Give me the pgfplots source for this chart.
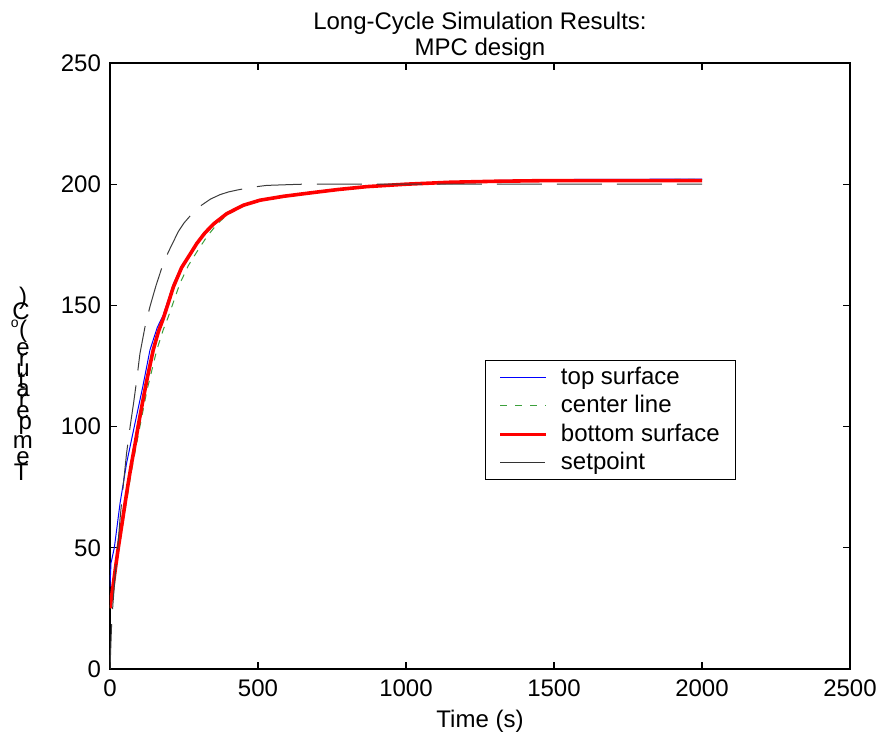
\documentclass[border=0pt]{standalone}
\usepackage{fontspec}
\setmainfont{Liberation Sans}
\usepackage{graphicx}
\usepackage{pgfplots}
\pgfplotsset{compat=1.18}
\definecolor{cgreen}{RGB}{60,160,60}
\definecolor{cset}{RGB}{60,60,60}
\newlength\uplen
\newcommand\up[1]{\settowidth{\uplen}{#1}\makebox[\uplen][c]{\rotatebox[origin=c]{-90}{#1}}}
\newcommand\fs{\fontsize{12}{13}\selectfont}
\begin{document}
\begin{tikzpicture}
\useasboundingbox (-55pt,-34.5pt) rectangle (386.5pt,334.5pt);
\begin{axis}[
  at={(0,0)}, anchor=south west,
  scale only axis, width=370pt, height=303pt,
  xmin=0, xmax=2500, ymin=0, ymax=250,
  xtick={0,500,...,2500}, ytick={0,50,...,250},
  tick align=inside, major tick length=3.5pt,
  xtick pos=both, ytick pos=both,
  axis line style={line width=0.6pt},
  every tick/.style={black, line width=0.6pt},
  /pgf/number format/assume math mode=true,
  /pgf/number format/1000 sep={},
  tick label style={font=\fs},
  xticklabel style={yshift=-2pt},
  yticklabel style={xshift=-1pt},
  scaled ticks=false,
  title={Long-Cycle Simulation Results:\\MPC design},
  title style={font=\fs, align=center, at={(0.5,1)}, anchor=south, yshift=-8.5pt},
  xlabel={Time (s)},
  xlabel style={font=\fs, at={(0.5,0)}, anchor=north, yshift=-17pt},
  ylabel={\up{T}\up{e}\up{m}\up{p}\up{e}\up{r}\up{a}\up{t}\up{u}\up{r}\up{e}\hspace{0.278em}\up{(}\raisebox{0.45em}{\up{\scriptsize o}}\up{C}\up{)}},
  ylabel style={font=\fs, at={(axis description cs:-0.119,0.465)}, anchor=center},
  legend cell align=left,
  legend style={at={(0.507,0.510)}, anchor=north west, draw=black, line width=0.6pt,
    font=\fs, inner xsep=6.5pt, inner ysep=1.3pt, column sep=5pt,
    nodes={inner sep=1.5pt, text height=9pt, text depth=2.25pt}},
]
\addplot[blue, line width=0.5pt,
  legend image code/.code={\draw[blue, line width=0.5pt] (0pt,0pt) -- (23pt,0pt);}]
coordinates {
(0,34) (3.4,43.7) (14.6,50) (34,68.4) (56,84.9) (84.5,101.4) (110,116) (135,131.6)
(160,141) (180,146) (214,158.8) (242,166.3) (270,171.5) (293,176) (320,180.2)
(350,184) (394,188.2) (450,191.5) (507,193.6) (586,195.2) (676,196.6) (770,198)
(868,199.2) (1000,200.2) (1149,201) (1300,201.5) (1486,201.9) (1700,202) (2000,202.1)
};
\addlegendentry{top surface}
\addplot[cgreen, line width=0.5pt, dash pattern=on 3.5pt off 3.5pt,
  legend image code/.code={\draw[cgreen, line width=0.5pt, dash pattern=on 3.5pt off 4pt] (0pt,0pt) -- (23pt,0pt);}]
coordinates {
(0,25) (10,33) (28,48) (51,65.5) (73,82) (101,100) (125,115) (158,131.6)
(180,140) (197,145.3) (236,159) (265,166.5) (293,172) (327,178.3) (360,183.3)
(394,187.2) (450,191) (507,193.3) (586,195) (676,196.4) (770,197.8) (868,199)
(1000,200) (1149,200.8) (1300,201.3) (1486,201.6) (1700,201.8) (2000,202)
};
\addlegendentry{center line}
\addplot[red, line width=1.8pt,
  legend image code/.code={\draw[red, line width=1.6pt] (0pt,0pt) -- (23pt,0pt);}]
coordinates {
(0,25.1) (10,34) (20,43) (28,50) (40,59.5) (51,68.4) (62,77) (73,85) (85,93)
(96,100.8) (110,110) (125,119.5) (146,131.6) (163,139) (180,144.6) (197,151)
(214,157.6) (242,165.6) (270,171) (293,175.5) (320,179.8) (350,183.6) (394,187.8)
(450,191.3) (507,193.4) (586,195) (676,196.4) (770,197.8) (868,199) (1000,200)
(1149,200.8) (1300,201.2) (1486,201.5) (1700,201.5) (2000,201.5)
};
\addlegendentry{bottom surface}
\addplot[cset, line width=0.5pt, dash pattern=on 22.5pt off 7.5pt,
  legend image code/.code={\draw[black!80, line width=0.5pt] (0pt,0pt) -- (23pt,0pt);}]
coordinates {
(0,0) (5,17) (10,27) (17,38) (26,50) (34,62) (45,76) (56,89) (68,100) (80,110)
(90,119) (101,130) (118,141) (135,149.5) (155,158) (175,165.5) (197,172)
(215,176.5) (231,180.5) (250,184) (270,186.8) (290,189.3) (310,191.4) (340,193.9)
(372,195.7) (400,196.8) (434,197.7) (490,198.9) (529,199.5) (600,199.8)
(650,200) (800,200) (2000,200)
};
\addlegendentry{setpoint}
\end{axis}
\end{tikzpicture}
\end{document}
